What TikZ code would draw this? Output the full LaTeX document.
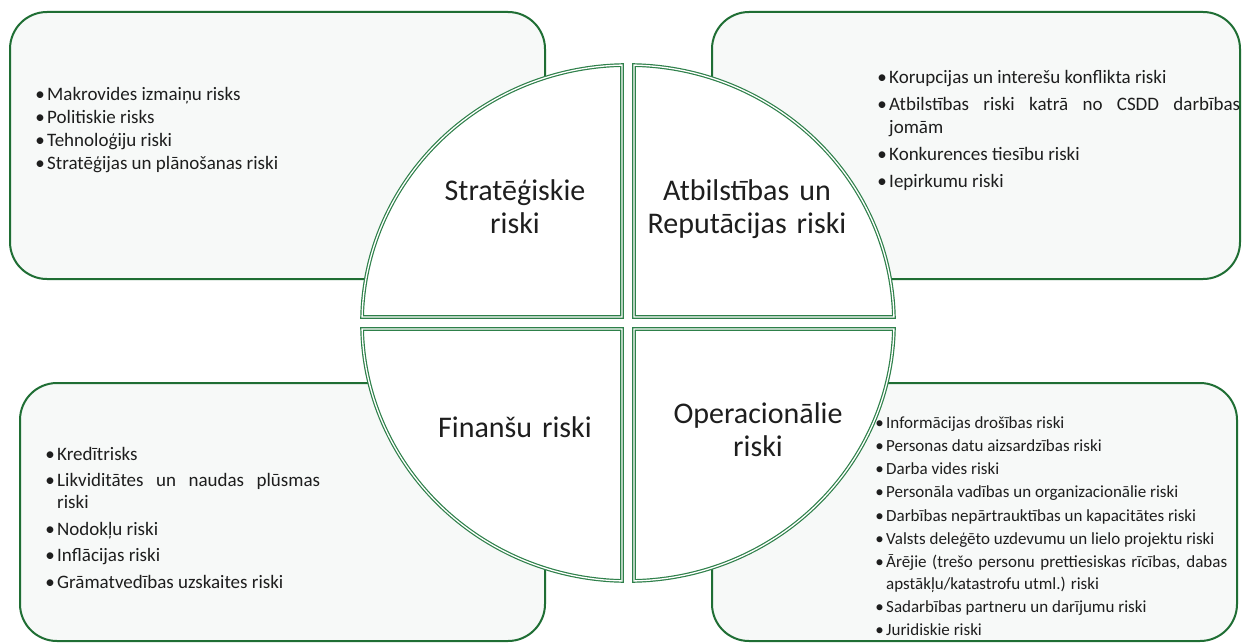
\documentclass[tikz,border=0pt]{standalone}
\usepackage{fontspec}
\setmainfont{Carlito}
\definecolor{boxgreen}{RGB}{31,110,52}
\definecolor{ringgreen}{RGB}{46,128,74}
\definecolor{boxfill}{RGB}{247,249,248}
\definecolor{txt}{RGB}{30,30,30}
\newcommand{\bulfirst}{\leavevmode\llap{\textbullet\hspace{2.3pt}}}
\newcommand{\bul}{\par\noindent\llap{\textbullet\hspace{2.3pt}}}
\hbadness=10000
\begin{document}
\begin{tikzpicture}[x=1pt,y=-1pt,
  infobox/.style={draw=boxgreen, line width=2pt, fill=boxfill, rounded corners=37pt},
  quadrant/.style={draw=ringgreen, double=white, double distance=1.3pt, line width=1.2pt, fill=white, line join=miter},
  qlabel/.style={font=\fontsize{30}{33}\selectfont, text=txt, text width=260pt, align=center, inner sep=0pt, anchor=base},
  risklist/.style={inner sep=0pt, anchor=base west, align=justify, text=txt}
]
\useasboundingbox (0,0) rectangle (1246,642);
\fill[white] (0,0) rectangle (1246,642);
% outer boxes
\draw[infobox] (10,12) rectangle (545,279);
\draw[infobox] (712,12) rectangle (1240,279);
\draw[infobox] (20,383) rectangle (545,641);
\draw[infobox] (712,383) rectangle (1237,641);
% quadrants
\draw[quadrant] (622,317) -- ([shift={(628,323)}]181.333:266 and 258)
  arc[start angle=181.333, end angle=268.707, x radius=266, y radius=258] -- cycle;
\draw[quadrant] (634,317) -- ([shift={(628,323)}]271.293:266 and 258)
  arc[start angle=271.293, end angle=358.667, x radius=266, y radius=258] -- cycle;
\draw[quadrant] (634,329) -- ([shift={(628,323)}]1.333:266 and 258)
  arc[start angle=1.333, end angle=88.707, x radius=266, y radius=258] -- cycle;
\draw[quadrant] (622,329) -- ([shift={(628,323)}]91.293:266 and 258)
  arc[start angle=91.293, end angle=178.667, x radius=266, y radius=258] -- cycle;
% quadrant labels
\node[qlabel] (strat) at (515,200) {Stratēģiskie\\riski};
\node[qlabel] (atb) at (747,200) {Atbilstības un\\Reputācijas riski};
\node[qlabel] (fin) at (515,437) {Finanšu riski};
\node[qlabel] (oper) at (758,423) {Operacionālie\\riski};
% lists
\node[risklist, text width=300pt, font=\fontsize{19}{23}\selectfont] (tl) at (47,100)
  {\setlength{\parskip}{0pt}%
   \bulfirst Makrovides izmaiņu risks
   \bul Politiskie risks
   \bul Tehnoloģiju riski
   \bul Stratēģijas un plānošanas riski};
\node[risklist, text width=351pt, font=\fontsize{19}{23}\selectfont] (tr) at (889,83.5)
  {\setlength{\parskip}{4pt}%
   \bulfirst Korupcijas un interešu konflikta riski
   \bul Atbilstības riski katrā no CSDD darbības\linebreak jomām
   \bul Konkurences tiesību riski
   \bul Iepirkumu riski};
\node[risklist, text width=263pt, font=\fontsize{19}{22}\selectfont] (bl) at (57,460)
  {\setlength{\parskip}{4.5pt}%
   \bulfirst Kredītrisks
   \bul Likviditātes un naudas plūsmas\linebreak riski
   \bul Nodokļu riski
   \bul Inflācijas riski
   \bul Grāmatvedības uzskaites riski};
\node[risklist, text width=341pt, font=\fontsize{17}{21.5}\selectfont] (br) at (886,428)
  {\setlength{\parskip}{1.8pt}%
   \bulfirst Informācijas drošības riski
   \bul Personas datu aizsardzības riski
   \bul Darba vides riski
   \bul Personāla vadības un organizacionālie riski
   \bul Darbības nepārtrauktības un kapacitātes riski
   \bul Valsts deleģēto uzdevumu un lielo projektu riski
   \bul Ārējie (trešo personu prettiesiskas rīcības, dabas\linebreak apstākļu/katastrofu utml.) riski
   \bul Sadarbības partneru un darījumu riski
   \bul Juridiskie riski};
\end{tikzpicture}
\end{document}
